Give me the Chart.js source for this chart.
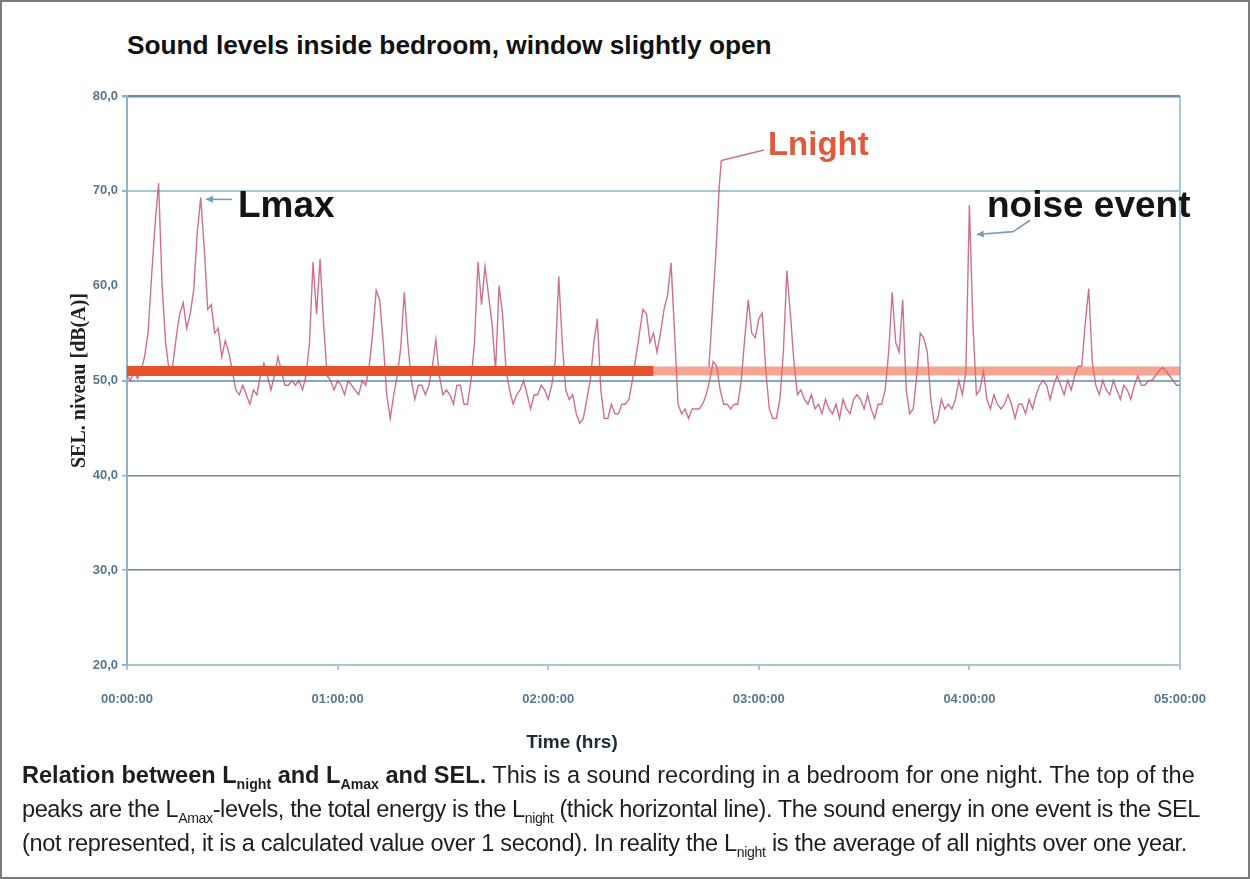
<!DOCTYPE html>
<html><head><meta charset="utf-8">
<script src="https://cdn.jsdelivr.net/npm/chart.js@4.4.1/dist/chart.umd.min.js"></script>
<style>
html,body{margin:0;padding:0;background:#fff;}
#page{position:relative;width:1250px;height:879px;overflow:hidden;font-family:"Liberation Sans",Arial,Helvetica,sans-serif;background:#fff;}
#frame{position:absolute;left:0;top:0;right:0;bottom:0;border:2px solid #7c7c7c;pointer-events:none;}
#title{position:absolute;left:127px;top:30px;font-weight:bold;font-size:26px;color:#111;white-space:nowrap;}
#chartWrap{position:absolute;left:0;top:0;width:1250px;height:760px;}
#xTitle{position:absolute;left:572px;top:731px;transform:translateX(-50%);font-weight:bold;font-size:19px;color:#1d2b34;white-space:nowrap;}
#caption{position:absolute;left:22px;top:758px;font-size:20px;line-height:34px;color:#1e1e1e;white-space:nowrap;}
#caption .ln{display:inline-block;}
#caption sub{font-size:60%;vertical-align:-0.4em;line-height:0;}
</style></head>
<body>
<div id="page">
  <div id="title">Sound levels inside bedroom, window slightly open</div>
  <div id="chartWrap"><canvas id="c"></canvas></div>
  <div id="xTitle">Time (hrs)</div>
  <div id="caption">
    <div><span class="ln" id="cap1"><b>Relation between L<sub>night</sub> and L<sub>Amax</sub> and SEL.</b> This is a sound recording in a bedroom for one night. The top of the</span></div>
    <div><span class="ln" id="cap2">peaks are the L<sub>Amax</sub>-levels, the total energy is the L<sub>night</sub> (thick horizontal line). The sound energy in one event is the SEL</span></div>
    <div><span class="ln" id="cap3">(not represented, it is a calculated value over 1 second). In reality the L<sub>night</sub> is the average of all nights over one year.</span></div>
  </div>
  <div id="frame"></div>
</div>
<script>
// ---- data ----
// one sample per minute from 00:00:00 to 05:00:00 (dB(A))
const soundLevels = [
50.5,50.0,51.0,50.2,51.0,52.5,55.0,61.0,66.5,70.8,
60.0,54.0,51.0,51.5,54.5,57.0,58.2,55.5,57.0,59.5,
65.5,69.3,64.0,57.5,58.0,55.0,55.5,52.5,54.2,53.0,
51.0,49.0,48.5,49.5,48.5,47.5,49.0,48.5,50.5,51.8,
50.5,49.0,50.5,52.5,51.0,49.5,49.5,50.0,49.5,50.0,
49.0,50.5,54.0,62.5,57.0,62.8,56.0,50.5,50.0,49.0,
50.0,49.5,48.5,50.0,49.5,49.0,48.5,50.0,49.5,51.5,
55.0,59.5,58.5,54.0,48.5,46.0,48.5,50.5,53.5,59.3,
54.0,50.0,48.0,49.5,49.5,48.5,49.5,51.5,54.3,50.5,
48.5,49.0,48.5,47.5,49.5,49.5,47.5,47.5,50.0,54.0,
62.5,58.0,62.0,59.0,56.0,51.0,60.0,57.0,51.0,49.0,
47.5,48.5,49.0,50.0,48.5,47.0,48.5,48.5,49.5,49.0,
48.0,49.5,52.0,61.0,54.0,49.0,48.0,48.5,46.5,45.5,
46.0,48.0,50.0,54.0,56.5,49.0,46.0,46.0,47.5,46.5,
46.5,47.5,47.5,48.0,50.0,52.5,55.0,57.5,57.0,54.0,
55.0,53.0,55.0,57.5,59.0,62.4,55.0,47.5,46.5,47.0,
46.0,47.0,47.0,47.0,47.5,48.5,50.0,52.0,51.5,49.0,
47.5,47.5,47.0,47.5,47.5,50.0,54.5,58.5,55.0,54.5,
56.5,57.1,51.0,47.0,46.0,46.0,48.0,53.0,61.6,57.0,
52.0,48.5,49.0,48.0,47.5,48.5,47.0,47.5,46.5,48.0,
47.0,46.5,47.5,46.0,48.0,47.0,46.5,48.0,48.5,48.0,
47.0,48.5,47.0,46.0,47.5,47.5,49.0,53.0,59.3,54.0,
53.0,58.5,49.0,46.5,47.0,50.5,55.0,54.5,53.0,48.0,
45.5,46.0,48.0,47.0,47.5,47.0,48.0,50.0,48.5,51.0,
68.5,56.0,48.5,49.0,51.0,48.0,47.0,48.5,47.5,47.0,
47.5,48.5,47.5,46.0,47.5,47.5,46.5,48.0,47.0,48.5,
49.5,50.0,49.5,48.0,49.5,50.5,49.5,48.5,50.0,49.0,
50.5,51.5,51.5,56.0,59.7,52.0,49.5,48.5,50.0,49.0,
48.5,50.0,49.0,48.0,49.5,49.0,48.0,49.5,50.5,49.5,
49.5,50.0,50.0,50.5,51.0,51.4,51.0,50.5,50.0,49.5,
49.5
];
const sampleStepMinutes = 1;
const lnightLevel = 51.0;          // dB(A)
const lnightSplitMinute = 150;     // thick line changes shade here
const timeMin = 0, timeMax = 300;  // minutes
const xTickLabels = ['00:00:00','01:00:00','02:00:00','03:00:00','04:00:00','05:00:00'];
const yTickLabels = ['20,0','30,0','40,0','50,0','60,0','70,0','80,0'];
const yMin = 20, yMax = 80;

// annotations in data coordinates (minutes, dB)
const annotationTexts = [
  {text:'Lmax',        t:31.6,  db:67.2},
  {text:'Lnight',      t:182.6, db:73.8},
  {text:'noise event', t:245.0, db:67.2}
];
const lmaxArrow  = [[29.9,69.1],[22.5,69.1]];
const noiseArrow = [[257.3,66.9],[252.5,65.7],[242.1,65.4]];
const lnightLeader = [[181.5,74.3],[169.3,73.2],[168.7,70.3],[167.8,63.6],[165.8,51.4]];

// ---- styles ----
const textStyles = {
  'Lmax':        {color:'#141414', font:'bold 37px "Liberation Sans", Arial, sans-serif'},
  'Lnight':      {color:'#e0593a', font:'bold 33px "Liberation Sans", Arial, sans-serif'},
  'noise event': {color:'#141414', font:'bold 37px "Liberation Sans", Arial, sans-serif'}
};
const yGridStyle = {
  80:['#6f8c9c',2.5], 70:['#a7c7d7',2], 60:['rgba(0,0,0,0)',0],
  50:['#86aabd',2], 40:['#72868f',1.5], 30:['#72868f',1.5], 20:['#a9c4d2',2]
};
const lineColor = 'rgba(196,88,122,0.85)';
const arrowColor = '#6f9dba';

const points = soundLevels.map((v,i)=>({x:i*sampleStepMinutes, y:v}));

function polyline(ctx, chart, pts, color, width, head){
  const xs = chart.scales.x, ys = chart.scales.y;
  const px = pts.map(p=>[xs.getPixelForValue(p[0]), ys.getPixelForValue(p[1])]);
  ctx.save();
  ctx.strokeStyle = color; ctx.lineWidth = width; ctx.lineJoin='round';
  ctx.beginPath();
  px.forEach((p,i)=> i?ctx.lineTo(p[0],p[1]):ctx.moveTo(p[0],p[1]));
  ctx.stroke();
  if(head){
    const a = px[px.length-2], b = px[px.length-1];
    const ang = Math.atan2(b[1]-a[1], b[0]-a[0]);
    const L = 7, W = 3.5;
    ctx.fillStyle = color;
    ctx.beginPath();
    ctx.moveTo(b[0],b[1]);
    ctx.lineTo(b[0]-L*Math.cos(ang)+W*Math.sin(ang), b[1]-L*Math.sin(ang)-W*Math.cos(ang));
    ctx.lineTo(b[0]-L*Math.cos(ang)-W*Math.sin(ang), b[1]-L*Math.sin(ang)+W*Math.cos(ang));
    ctx.closePath(); ctx.fill();
  }
  ctx.restore();
}

const annotationPlugin = {
  id:'notes',
  afterDatasetsDraw(chart){
    const ctx = chart.ctx, xs = chart.scales.x, ys = chart.scales.y;
    polyline(ctx, chart, lnightLeader, lineColor, 1.4, false);
    polyline(ctx, chart, lmaxArrow, arrowColor, 1.6, true);
    polyline(ctx, chart, noiseArrow, arrowColor, 1.6, true);
    annotationTexts.forEach(a=>{
      const st = textStyles[a.text];
      ctx.save();
      ctx.font = st.font; ctx.fillStyle = st.color;
      ctx.textAlign='left'; ctx.textBaseline='alphabetic';
      ctx.fillText(a.text, xs.getPixelForValue(a.t), ys.getPixelForValue(a.db));
      ctx.restore();
    });
  }
};

function fitLetterSpacing(el, target){
  const w = el.getBoundingClientRect().width;
  const n = el.textContent.length;
  el.style.letterSpacing = ((target - w)/n)+'px';
}

function start(){
  // fit text widths to the reference layout
  const title = document.getElementById('title');
  title.style.fontSize = (26*645/title.getBoundingClientRect().width)+'px';
  const cap = document.getElementById('caption');
  const c1 = document.getElementById('cap1');
  cap.style.fontSize = (20*1173/c1.getBoundingClientRect().width)+'px';
  fitLetterSpacing(document.getElementById('cap2'), 1178);
  fitLetterSpacing(document.getElementById('cap3'), 1165);

  const tickFont = {family:'"Liberation Sans", Arial, sans-serif', size:13, weight:'bold'};
  new Chart(document.getElementById('c'), {
    type:'line',
    data:{datasets:[
      {label:'Lnight', data:[{x:timeMin,y:lnightLevel},{x:lnightSplitMinute,y:lnightLevel}],
       borderColor:'#e4512b', borderWidth:10, pointRadius:0, borderCapStyle:'butt', order:0},
      {label:'Lnight (cont.)', data:[{x:lnightSplitMinute,y:lnightLevel},{x:timeMax,y:lnightLevel}],
       borderColor:'rgba(236,105,80,0.6)', borderWidth:9, pointRadius:0, borderCapStyle:'butt', order:0},
      {label:'Sound level', data:points, borderColor:lineColor, borderWidth:1.4,
       pointRadius:0, tension:0, order:1}
    ]},
    options:{
      animation:false, responsive:true, maintainAspectRatio:false,
      layout:{padding:{left:60, top:96, right:70, bottom:0}},
      plugins:{legend:{display:false}, tooltip:{enabled:false}},
      scales:{
        x:{type:'linear', min:timeMin, max:timeMax,
           afterFit(s){ s.height = 95; },
           ticks:{stepSize:60, autoSkip:false, maxRotation:0, padding:22, color:'#55788f', font:tickFont,
                  callback:(v)=> xTickLabels[Math.round(v/60)]},
           grid:{color:(c)=> (c.tick && c.tick.value===timeMax) ? '#a7c7d7' : 'rgba(0,0,0,0)',
                 lineWidth:2, tickColor:'#a9c4d2', tickLength:5},
           border:{color:'#a9c4d2', width:2}
        },
        y:{min:yMin, max:yMax,
           afterFit(s){ s.width = 67; },
           ticks:{stepSize:10, padding:4, color:'#55788f', font:tickFont,
                  callback:(v)=> yTickLabels[Math.round((v-yMin)/10)]},
           grid:{color:(c)=> (yGridStyle[c.tick.value]||['#ccc',1])[0],
                 lineWidth:(c)=> (yGridStyle[c.tick.value]||['#ccc',1])[1],
                 tickColor:'#8fb4c8', tickLength:5},
           border:{color:'#8fb4c8', width:2},
           title:{display:true, text:'SEL. niveau [dB(A)]', color:'#222',
                  font:{family:'"Liberation Serif", "Times New Roman", serif', size:20, weight:'bold'},
                  padding:{top:8, bottom:0}}
        }
      }
    },
    plugins:[annotationPlugin]
  });
}
if (document.fonts && document.fonts.ready) document.fonts.ready.then(start); else start();
</script>
</body></html>
